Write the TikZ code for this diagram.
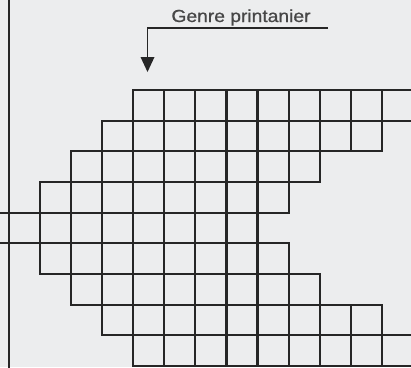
\documentclass[tikz,border=0pt]{standalone}
\usepackage{fontspec}
\setmainfont{Liberation Sans}
\newfontfamily\lblfont[FakeBold=0.8]{Liberation Sans}
\definecolor{paper}{RGB}{236,237,238}
\definecolor{ink}{RGB}{38,38,38}
\begin{document}
\begin{tikzpicture}[x=1pt,y=-1pt,
  gridline/.style={draw=ink,line width=2.2pt,line cap=rect},
  framel/.style={draw=ink,line width=2.2pt},
  leader/.style={draw=ink,line width=1.5pt},
  tip/.style={fill=ink,draw=none},
  lbl/.style={font=\lblfont\fontsize{17.5}{17.5}\selectfont,text=ink!85,inner sep=0pt,anchor=base,xscale=1.1}]
\useasboundingbox (0,0) rectangle (411,367);
\fill[paper] (0,0) rectangle (411,367);
\clip (0,0) rectangle (411,367);
% horizontal grid lines: row j, from column a to column b
\foreach \j/\a/\b in {0/4/14,1/3/14,2/2/12,3/1/10,4/-1/9,5/-1/9,6/1/10,7/2/12,8/3/14,9/4/14}{
  \draw[gridline] ({8.9+31.08*\a},{90+30.67*\j}) -- ({8.9+31.08*\b},{90+30.67*\j});
}
% vertical grid lines: band j, columns a to b
\foreach \j/\a/\b in {0/4/14,1/3/12,2/2/10,3/1/9,4/0/8,5/1/9,6/2/10,7/3/12,8/4/14}{
  \foreach \i in {\a,...,\b}{
    \draw[gridline] ({8.9+31.08*\i},{90+30.67*\j}) -- ({8.9+31.08*\i},{90+30.67*(\j+1)});
  }
}
% left frame line
\coordinate (ftop) at (8.9,-2);
\coordinate (fbot) at (8.9,369);
\draw[framel] (ftop) -- (fbot);
% label and leader arrow
\node[lbl] (title) at (241,22) {Genre printanier};
\coordinate (uend) at (328,28);
\coordinate (ucorner) at (147.5,28);
\coordinate (tiptop) at (147.5,57);
\draw[leader] (uend) -- (ucorner) -- (tiptop);
\fill[tip] (140.5,57) -- (154.5,57) -- (147.5,72) -- cycle;
\end{tikzpicture}
\end{document}
